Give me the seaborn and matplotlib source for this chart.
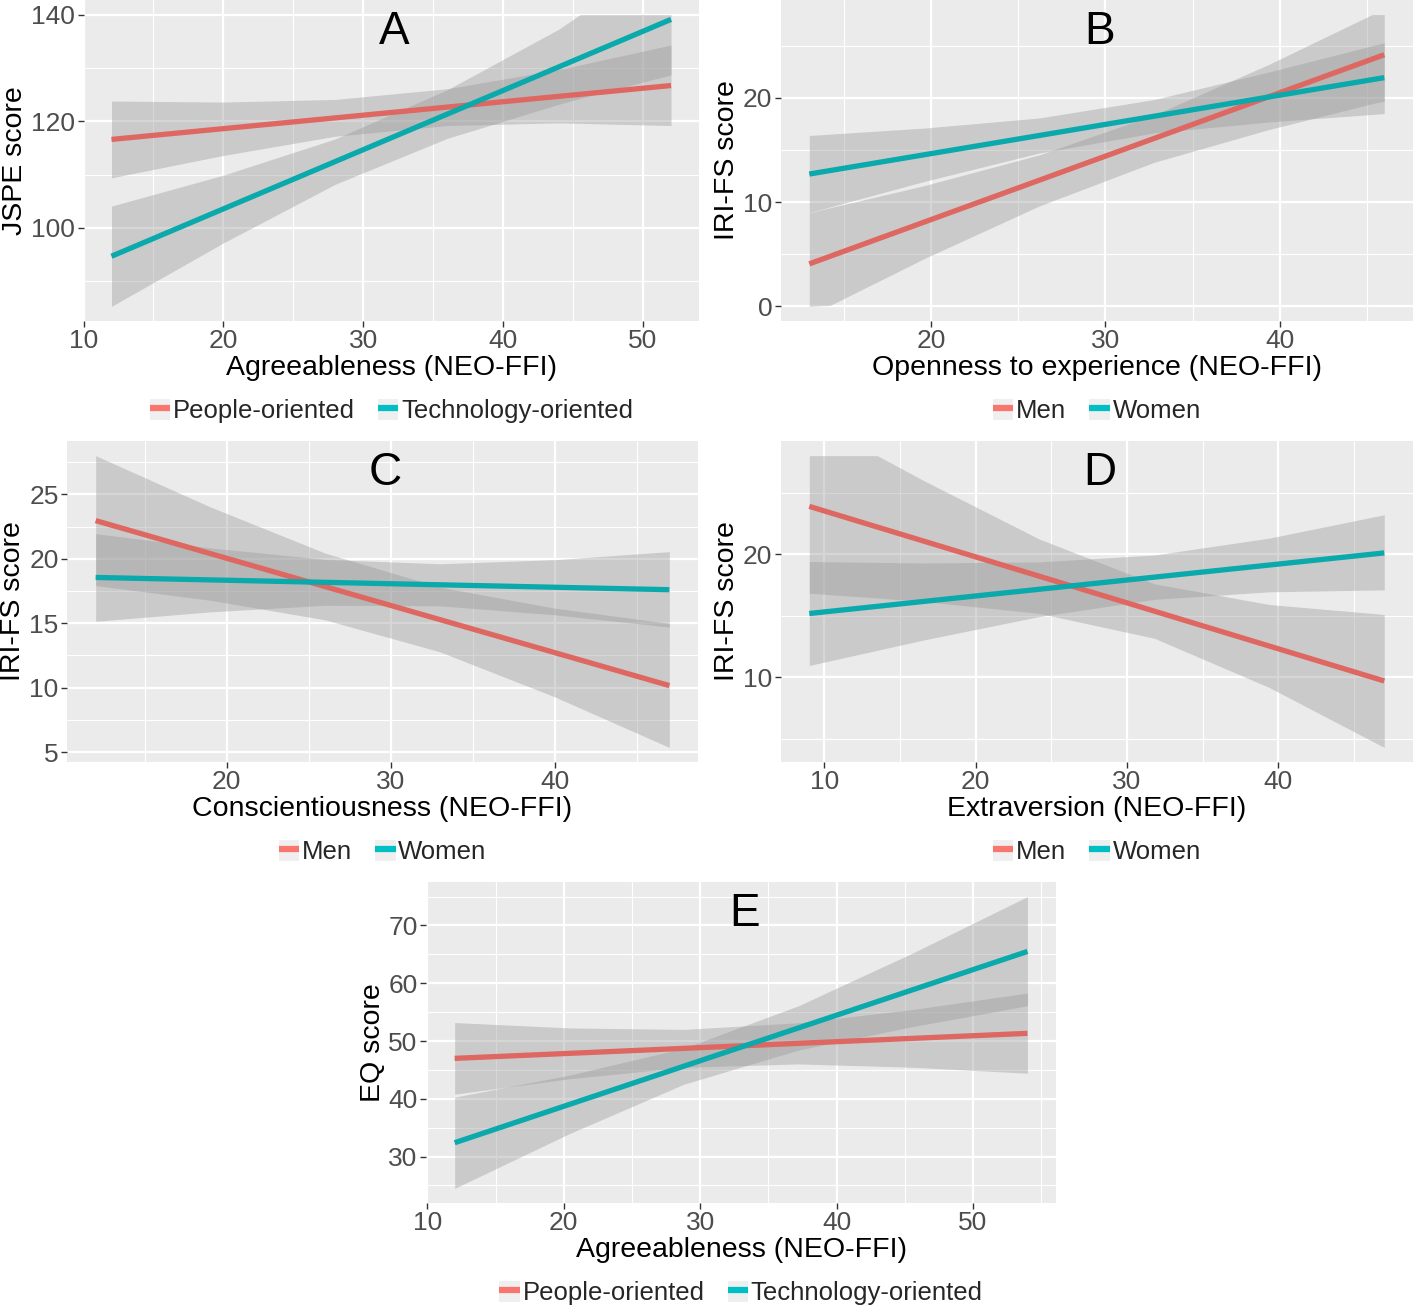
###################################################################################################
# Required Libraries
###################################################################################################
import numpy as np
import pandas as pd
import matplotlib
matplotlib.use("Agg")
import matplotlib.pyplot as plt
from matplotlib.lines import Line2D
from matplotlib.patches import Patch
from matplotlib.ticker import MultipleLocator
import seaborn as sns

###################################################################################################
# Data
###################################################################################################

# Panel A : JSPE score vs Agreeableness
A_groups = ["People-oriented", "Technology-oriented"]
A_line_x = [12, 52]
A_people_line = [116.6, 126.7]
A_tech_line = [94.7, 139.1]
A_people_band_x = [12, 20, 28, 36, 44, 52]
A_people_lo = [109.4, 113.6, 117.2, 119.2, 119.7, 119.2]
A_people_hi = [123.8, 123.6, 124.1, 126.1, 129.7, 134.3]
A_tech_band_x = [12, 20, 28, 36, 44, 45.5, 52]
A_tech_lo = [85.3, 97.2, 108.2, 116.8, 123.2, 124.3, 128.7]
A_tech_hi = [104.1, 109.9, 116.7, 125.9, 137.3, 140.0, 140.0]

# Panel B : IRI-FS score vs Openness
B_groups = ["Men", "Women"]
B_line_x = [13, 46]
B_men_line = [4.08, 24.15]
B_women_line = [12.7, 21.95]
B_men_band_x = [13, 14.2, 19.6, 26.2, 32.8, 39.4, 45.3, 46]
B_men_lo = [0.0, 0.1, 4.59, 9.64, 13.83, 16.98, 19.45, 19.69]
B_men_hi = [8.98, 9.47, 11.59, 14.54, 18.37, 23.24, 28.0, 28.0]
B_women_band_x = [13, 19.6, 26.2, 32.8, 39.4, 46]
B_women_lo = [9.0, 11.99, 14.72, 16.65, 17.7, 18.5]
B_women_hi = [16.4, 17.11, 18.08, 19.85, 22.5, 25.3]

# Panel C : IRI-FS score vs Conscientiousness
C_groups = ["Men", "Women"]
C_line_x = [12, 47]
C_men_line = [22.96, 10.16]
C_women_line = [18.55, 17.6]
C_band_x = [12, 19, 26, 33, 40, 47]
C_men_lo = [17.92, 16.78, 15.26, 12.78, 9.29, 5.36]
C_men_hi = [28.0, 24.02, 20.44, 17.8, 16.17, 14.98]
C_women_lo = [15.15, 15.88, 16.39, 16.35, 15.65, 14.7]
C_women_hi = [21.95, 20.84, 19.95, 19.61, 19.93, 20.55]

# Panel D : IRI-FS score vs Extraversion
D_groups = ["Men", "Women"]
D_line_x = [9, 47]
D_men_line = [23.88, 9.7]
D_women_line = [15.18, 20.1]
D_men_band_x = [9, 13.5, 16.6, 24.2, 31.8, 39.4, 47]
D_men_lo = [16.83, 16.44, 16.15, 15.19, 13.17, 9.17, 4.3]
D_men_hi = [28.0, 28.0, 25.95, 21.23, 17.59, 15.91, 15.1]
D_women_band_x = [9, 16.6, 24.2, 31.8, 39.4, 47]
D_women_lo = [10.96, 13.04, 14.93, 16.33, 16.94, 17.1]
D_women_hi = [19.4, 19.28, 19.37, 19.93, 21.3, 23.2]

# Panel E : EQ score vs Agreeableness
E_groups = ["People-oriented", "Technology-oriented"]
E_line_x = [12, 54]
E_people_line = [47.0, 51.33]
E_tech_line = [32.4, 65.5]
E_band_x = [12, 20.4, 28.8, 37.2, 45.6, 54]
E_people_lo = [40.8, 43.47, 45.45, 46.04, 45.46, 44.43]
E_people_hi = [53.2, 52.27, 52.01, 53.16, 55.46, 58.3]
E_tech_lo = [24.5, 33.96, 42.52, 48.43, 52.51, 56.1]
E_tech_hi = [40.3, 44.08, 48.76, 56.09, 65.25, 75.0]

###################################################################################################
# Styles
###################################################################################################
RED = "#F8766D"
TEAL = "#00BFC4"
RED_LINE = "#DE6761"
TEAL_LINE = "#09A9AC"
RIBBON = "#999999"

###################################################################################################
# Function name = expand
# description = ggplot style 5% expansion of a data range
###################################################################################################
def expand(lo, hi, mult=0.05):
    span = hi - lo
    return lo - mult * span, hi + mult * span

###################################################################################################
# Function name = draw_panel
# description = draws two fitted lines with their confidence ribbons
###################################################################################################
def draw_panel(ax, series, letter, xlabel, ylabel, xticks, yticks, ystep_minor, xstep_minor, groups):
    all_x = []
    all_y = []
    for s in series:
        ax.fill_between(s["band_x"], s["lo"], s["hi"], color=RIBBON, alpha=0.4, linewidth=0, zorder=2)
        df = pd.DataFrame({"x": s["line_x"], "y": s["line"]})
        sns.lineplot(data=df, x="x", y="y", ax=ax, color=s["color"], linewidth=3.8,
                     solid_capstyle="butt", zorder=3)
        all_x += list(s["band_x"]) + list(s["line_x"])
        all_y += list(s["lo"]) + list(s["hi"])

    ax.set_xlim(*expand(min(all_x), max(all_x)))
    ax.set_ylim(*expand(min(all_y), max(all_y)))
    ax.set_xticks(xticks)
    ax.set_yticks(yticks)
    ax.xaxis.set_minor_locator(MultipleLocator(xstep_minor))
    ax.yaxis.set_minor_locator(MultipleLocator(ystep_minor))
    ax.grid(which="major", color="white", linewidth=1.6)
    ax.grid(which="minor", color="white", linewidth=0.8)
    ax.set_axisbelow(True)
    ax.tick_params(which="major", length=4, width=1.0, color="#333333", pad=2,
                   labelsize=19, labelcolor="#4D4D4D", bottom=True, left=True)
    ax.tick_params(which="minor", length=0)
    for sp in ax.spines.values():
        sp.set_visible(False)

    ax.set_xlabel(xlabel, fontsize=20.5, color="black", labelpad=1)
    ax.set_ylabel(ylabel, fontsize=20.5, color="black", labelpad=2)
    ax.text(0.505, 0.9, letter, transform=ax.transAxes, ha="center", va="center",
            fontsize=33, color="black", zorder=5)

    handles = [(Patch(facecolor="#EFEFEF", edgecolor="none"),
                Line2D([], [], color=c, linewidth=4.5, solid_capstyle="butt"))
               for c in (RED, TEAL)]
    ax.legend(handles, groups, loc="center", bbox_to_anchor=(0.5, -0.28), ncol=2,
              frameon=False, fontsize=18.5, handlelength=0.8, handleheight=0.9,
              handletextpad=0.1, columnspacing=0.9, borderaxespad=0)

###################################################################################################
# Function name = main
###################################################################################################
def main():
    sns.set_theme(style="darkgrid", rc={"axes.facecolor": "#EBEBEB", "figure.facecolor": "white"})
    plt.rcParams["font.family"] = ["Liberation Sans", "DejaVu Sans"]

    fig = plt.figure(figsize=(14.13, 13.08), dpi=100)
    h = 0.2454
    axA = fig.add_axes([0.0591, 0.7546, 0.4356, h])
    axB = fig.add_axes([0.5524, 0.7546, 0.4476, h])
    axC = fig.add_axes([0.0474, 0.4174, 0.4466, h])
    axD = fig.add_axes([0.5524, 0.4174, 0.4476, h])
    axE = fig.add_axes([0.3015, 0.0803, 0.4459, h])

    #1) panel A
    draw_panel(axA, [
        dict(band_x=A_people_band_x, lo=A_people_lo, hi=A_people_hi, line_x=A_line_x, line=A_people_line, color=RED_LINE),
        dict(band_x=A_tech_band_x, lo=A_tech_lo, hi=A_tech_hi, line_x=A_line_x, line=A_tech_line, color=TEAL_LINE),
    ], "A", "Agreeableness (NEO-FFI)", "JSPE score", [10, 20, 30, 40, 50], [100, 120, 140], 10, 5, A_groups)

    #2) panel B
    draw_panel(axB, [
        dict(band_x=B_men_band_x, lo=B_men_lo, hi=B_men_hi, line_x=B_line_x, line=B_men_line, color=RED_LINE),
        dict(band_x=B_women_band_x, lo=B_women_lo, hi=B_women_hi, line_x=B_line_x, line=B_women_line, color=TEAL_LINE),
    ], "B", "Openness to experience (NEO-FFI)", "IRI-FS score", [20, 30, 40], [0, 10, 20], 5, 5, B_groups)

    #3) panel C
    draw_panel(axC, [
        dict(band_x=C_band_x, lo=C_men_lo, hi=C_men_hi, line_x=C_line_x, line=C_men_line, color=RED_LINE),
        dict(band_x=C_band_x, lo=C_women_lo, hi=C_women_hi, line_x=C_line_x, line=C_women_line, color=TEAL_LINE),
    ], "C", "Conscientiousness (NEO-FFI)", "IRI-FS score", [20, 30, 40], [5, 10, 15, 20, 25], 2.5, 5, C_groups)

    #4) panel D
    draw_panel(axD, [
        dict(band_x=D_men_band_x, lo=D_men_lo, hi=D_men_hi, line_x=D_line_x, line=D_men_line, color=RED_LINE),
        dict(band_x=D_women_band_x, lo=D_women_lo, hi=D_women_hi, line_x=D_line_x, line=D_women_line, color=TEAL_LINE),
    ], "D", "Extraversion (NEO-FFI)", "IRI-FS score", [10, 20, 30, 40], [10, 20], 5, 5, D_groups)

    #5) panel E
    draw_panel(axE, [
        dict(band_x=E_band_x, lo=E_people_lo, hi=E_people_hi, line_x=E_line_x, line=E_people_line, color=RED_LINE),
        dict(band_x=E_band_x, lo=E_tech_lo, hi=E_tech_hi, line_x=E_line_x, line=E_tech_line, color=TEAL_LINE),
    ], "E", "Agreeableness (NEO-FFI)", "EQ score", [10, 20, 30, 40, 50], [30, 40, 50, 60, 70], 5, 5, E_groups)

    fig.savefig("out.png", dpi=100)

###################################################################################################
# application starter
###################################################################################################
if __name__ == "__main__":
    main()
